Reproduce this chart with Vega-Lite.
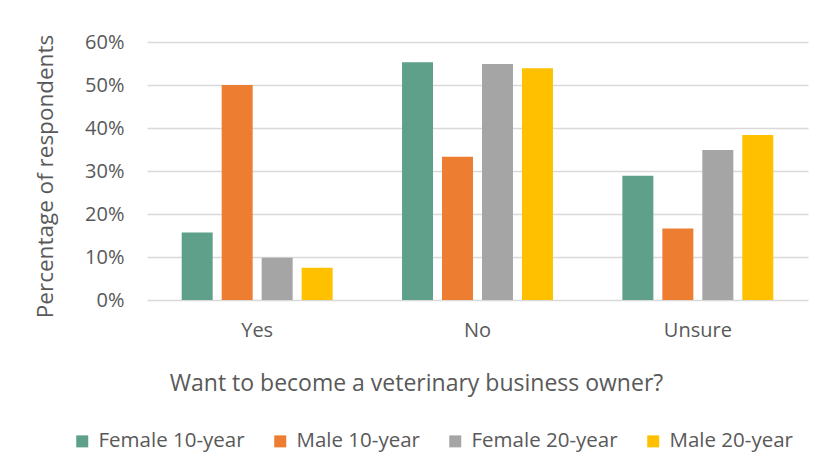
{
  "$schema": "https://vega.github.io/schema/vega-lite/v6.json",
  "autosize": {"type": "none"},
  "width": 661,
  "height": 258,
  "padding": {"left": 147, "top": 42, "right": 21, "bottom": 159},
  "background": "#ffffff",
  "config": {
    "font": "Open Sans",
    "view": {"stroke": null}
  },
  "data": {
    "values": [
      {"answer": "Yes", "group": "Female 10-year", "value": 0.157},
      {"answer": "Yes", "group": "Male 10-year", "value": 0.500},
      {"answer": "Yes", "group": "Female 20-year", "value": 0.098},
      {"answer": "Yes", "group": "Male 20-year", "value": 0.075},
      {"answer": "No", "group": "Female 10-year", "value": 0.553},
      {"answer": "No", "group": "Male 10-year", "value": 0.333},
      {"answer": "No", "group": "Female 20-year", "value": 0.549},
      {"answer": "No", "group": "Male 20-year", "value": 0.539},
      {"answer": "Unsure", "group": "Female 10-year", "value": 0.289},
      {"answer": "Unsure", "group": "Male 10-year", "value": 0.166},
      {"answer": "Unsure", "group": "Female 20-year", "value": 0.349},
      {"answer": "Unsure", "group": "Male 20-year", "value": 0.384}
    ]
  },
  "mark": {"type": "bar"},
  "encoding": {
    "x": {
      "field": "answer",
      "type": "nominal",
      "sort": ["Yes", "No", "Unsure"],
      "scale": {"paddingInner": 0.315, "paddingOuter": 0.1575},
      "axis": {
        "title": "Want to become a veterinary business owner?",
        "titleFontSize": 23,
        "titleFontWeight": "normal",
        "titleColor": "#595959",
        "titleX": 269,
        "titleY": 83,
        "titleAlign": "center",
        "titleBaseline": "middle",
        "labelAngle": 0,
        "labelFontSize": 20,
        "labelColor": "#595959",
        "labelPadding": 20,
        "ticks": false,
        "domain": false
      }
    },
    "xOffset": {
      "field": "group",
      "type": "nominal",
      "sort": ["Female 10-year", "Male 10-year", "Female 20-year", "Male 20-year"],
      "scale": {"paddingInner": 0.225, "paddingOuter": 0}
    },
    "y": {
      "field": "value",
      "type": "quantitative",
      "scale": {"domain": [0, 0.6], "nice": false},
      "axis": {
        "format": ".0%",
        "values": [0, 0.1, 0.2, 0.3, 0.4, 0.5, 0.6],
        "title": "Percentage of respondents",
        "titleFontSize": 22.5,
        "titleFontWeight": "normal",
        "titleColor": "#595959",
        "titleX": -102,
        "titleY": 134,
        "titleAngle": -90,
        "titleAlign": "center",
        "titleBaseline": "middle",
        "labelFontSize": 20,
        "labelColor": "#595959",
        "labelPadding": 23,
        "ticks": false,
        "domain": false,
        "grid": true,
        "gridColor": "#D9D9D9",
        "gridWidth": 1.3
      }
    },
    "color": {
      "field": "group",
      "type": "nominal",
      "sort": ["Female 10-year", "Male 10-year", "Female 20-year", "Male 20-year"],
      "scale": {
        "domain": ["Female 10-year", "Male 10-year", "Female 20-year", "Male 20-year"],
        "range": ["#5FA08A", "#ED7D31", "#A5A5A5", "#FFC000"]
      },
      "legend": {
        "title": null,
        "orient": "none",
        "direction": "horizontal",
        "columns": 4,
        "legendX": -75,
        "legendY": 389,
        "symbolType": "square",
        "symbolSize": 144,
        "symbolStrokeWidth": 0,
        "labelFontSize": 20.5,
        "labelColor": "#595959",
        "labelOffset": 6,
        "columnPadding": 25
      }
    }
  }
}
